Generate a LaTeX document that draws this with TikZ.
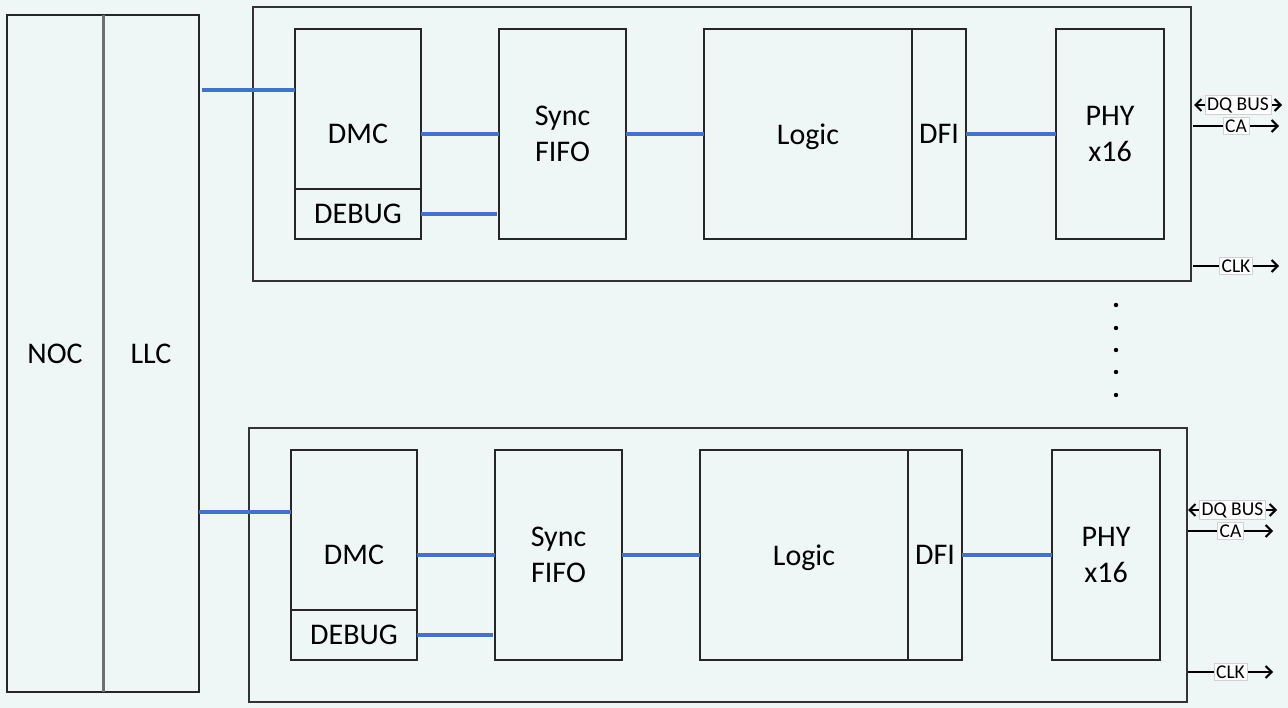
\documentclass[tikz,border=0pt]{standalone}
\usepackage{fontspec}
\setmainfont{Carlito}
\usetikzlibrary{arrows.meta}
\definecolor{bg}{RGB}{238,247,245}
\definecolor{bluel}{RGB}{68,114,196}
\definecolor{divg}{RGB}{112,112,112}
\tikzset{
  blk/.style={draw=black!85, line width=1.2pt, inner sep=0pt, outer sep=0pt,
    font=\fontsize{30}{36}\selectfont, align=center, anchor=north west},
  frame/.style={draw=black!80, line width=1.2pt, inner sep=0pt, outer sep=0pt, anchor=north west},
  bus/.style={draw=bluel, line width=3.5pt},
  sig/.style={draw=black, line width=2pt},
  tipr/.style={-{Straight Barb[length=6pt,width=12pt]}},
  tiplr/.style={{Straight Barb[length=6pt,width=12pt]}-{Straight Barb[length=6pt,width=12pt]}},
  lbl/.style={fill=white, draw=black!18, line width=0.6pt, inner sep=2pt,
    font=\fontsize{19.5}{21}\selectfont},
  divider/.style={draw=divg, line width=3pt},
}
\newcommand\drawmodule[3]{%
  \begin{scope}[shift={(#2,#3)}, name prefix=#1-]
    \node[frame, minimum width=938pt, minimum height=274pt] (outer) at (253,7) {};
    \node[blk, minimum width=126pt, minimum height=210pt] (dmc) at (295,29) {DMC};
    \node[blk, minimum width=126pt, minimum height=50pt] (dbg) at (295,189) {DEBUG};
    \node[blk, minimum width=127pt, minimum height=210pt] (sync) at (499,29) {Sync\\FIFO};
    \node[blk, minimum width=208pt, minimum height=210pt, text depth=0pt] (logic) at (704,29) {Logic};
    \node[blk, minimum width=54pt, minimum height=210pt] (dfi) at (912,29) {DFI};
    \node[blk, minimum width=108pt, minimum height=210pt] (phy) at (1056,29) {PHY\\x16};
    \draw[bus] (dmc.east) -- (sync.west);
    \draw[bus] (dbg.east) -- ([xshift=-2pt]dbg.east -| sync.west);
    \draw[bus] (sync.east) -- (logic.west);
    \draw[bus] (dfi.east) -- (phy.west);
  \end{scope}%
}
\begin{document}
\begin{tikzpicture}[x=1pt,y=-1pt]
  \fill[bg] (0,0) rectangle (1288,708);
  \useasboundingbox (0,0) rectangle (1288,708);

  % NOC / LLC
  \node[blk, minimum width=96pt, minimum height=677pt] (noc) at (7,15) {NOC};
  \node[blk, minimum width=96pt, minimum height=677pt] (llc) at (103,15) {LLC};
  \draw[divider] (noc.north east) -- (noc.south east);

  % modules
  \drawmodule{t}{0}{0}
  \drawmodule{b}{-4}{421}

  % LLC to DMC
  \coordinate (ta) at (295,90);
  \coordinate (ba) at (291,512);
  \draw[bus] ([xshift=3pt]llc.east |- ta) -- (t-dmc.west |- ta);
  \draw[bus] (llc.east |- ba) -- (b-dmc.west |- ba);

  % top I/O
  \coordinate (tdq1) at (1194,105); \coordinate (tdq2) at (1282,105);
  \coordinate (tca1) at (1193,126); \coordinate (tca2) at (1279,126);
  \coordinate (tck1) at (1193,266); \coordinate (tck2) at (1279,266);
  \draw[sig, tiplr] (tdq1) -- (tdq2) node[lbl, midway] (tdql) {DQ BUS};
  \draw[sig, tipr] (tca1) -- (tca2) node[lbl, midway] (tcal) {CA};
  \draw[sig, tipr] (tck1) -- (tck2) node[lbl, midway] (tckl) {CLK};

  % bottom I/O
  \coordinate (bdq1) at (1188,510); \coordinate (bdq2) at (1277,510);
  \coordinate (bca1) at (1188,531); \coordinate (bca2) at (1273,531);
  \coordinate (bck1) at (1188,672); \coordinate (bck2) at (1273,672);
  \draw[sig, tiplr] (bdq1) -- (bdq2) node[lbl, midway] (bdql) {DQ BUS};
  \draw[sig, tipr] (bca1) -- (bca2) node[lbl, midway] (bcal) {CA};
  \draw[sig, tipr] (bck1) -- (bck2) node[lbl, midway] (bckl) {CLK};

  % dots
  \foreach \yy in {305,328,350,372,395}
    \fill (1116,\yy) circle[radius=2.2pt];
\end{tikzpicture}
\end{document}
